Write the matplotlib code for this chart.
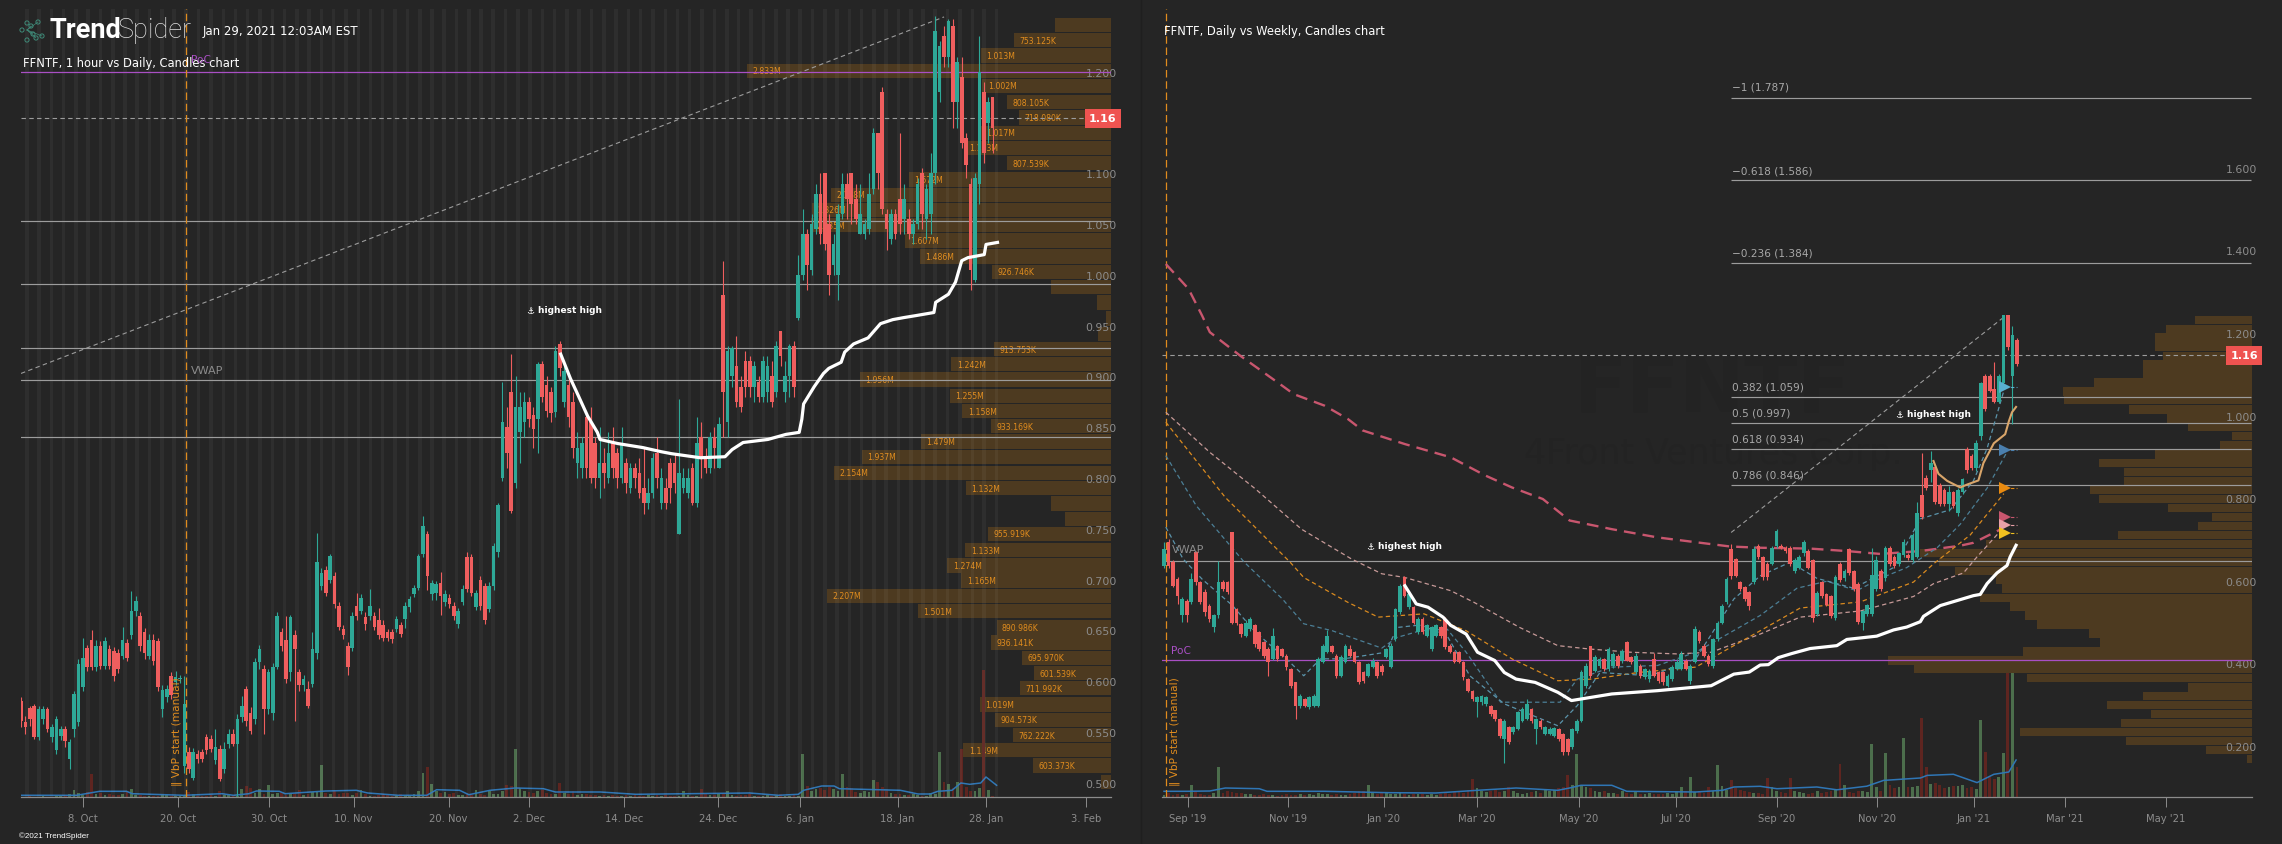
import numpy as np
import matplotlib
matplotlib.use("Agg")
import matplotlib.pyplot as plt

plt.rcParams["font.family"] = ["DejaVu Sans"]

BG = "#252525"
UP = "#2ea897"
DOWN = "#ef5e5e"
GRID = "#9c9c9c"
TICK = "#8c8c8c"
ORANGE = "#e08c1e"
BROWN = "#4d3a20"
PURPLE = "#a94fc4"

# left panel, 1 hour candles
l_open = [
    .581,.560,.574,.576,.545,.563,.573,.545,.532,.546,.553,
    .523,.553,.560,.594,.633,.641,.614,.635,.615,.632,.630,
    .628,.625,.638,.645,.669,.664,.648,.625,.641,.640,.573,.584,
    .605,.599,.602,.517,.530,.505,.528,.530,.545,.543,.522,
    .533,.514,.538,.548,.538,.565,.592,.569,.563,.619,.612,
    .573,.569,.614,.648,.641,.609,.645,.609,.596,.592,.597,
    .628,.694,.709,.700,.704,.674,.651,.635,.633,.674,.669,
    .663,.664,.664,.660,.655,.648,.648,.651,.655,.661,.673,
    .686,.692,.725,.745,.686,.687,.697,.678,.682,.674,.656,
    .678,.722,.722,.673,.700,.694,.671,.694,.727,.800,.850,
    .885,.795,.845,.855,.875,.862,.858,.912,.892,.885,.865,
    .932,.875,.892,.875,.815,.810,.860,.855,.835,.800,.815,.800,.835,
    .825,.800,.815,.790,.810,.805,.790,.775,.785,.825,.775,
    .790,.815,.815,.745,.790,.785,.810,.775,.840,.820,.810,
    .840,.810,.980,.855,.900,.910,.890,.915,.915,.890,.895,
    .880,.885,.900,.885,.945,.885,.900,.930,.958,1.000,
    1.040,1.005,1.045,1.080,1.100,1.050,1.010,1.000,1.060,1.090,1.100,
    1.075,1.040,1.040,1.045,1.085,1.140,1.180,1.060,1.035,1.060,1.075,
    1.055,1.055,1.040,1.050,1.100,1.055,1.060,1.100,1.180,1.235,1.215,
    1.245,1.170,1.195,1.135,1.090,.995,1.090,1.180,1.150,
    1.175]
l_close = [
    .561,.555,.563,.545,.573,.573,.553,.555,.563,.553,.541,
    .540,.587,.617,.623,.614,.614,.635,.615,.640,.615,.605,
    .612,.641,.623,.669,.679,.635,.628,.641,.620,.594,.591,.592,
    .586,.604,.603,.578,.514,.530,.523,.523,.532,.533,.535,
    .504,.533,.548,.538,.563,.576,.561,.551,.619,.632,.573,
    .609,.614,.664,.635,.602,.663,.632,.596,.602,.576,.632,
    .717,.707,.687,.723,.676,.653,.645,.614,.664,.664,.682,
    .656,.674,.653,.645,.643,.643,.642,.661,.646,.674,.681,
    .692,.723,.753,.704,.697,.696,.684,.686,.676,.664,.669,
    .691,.691,.687,.687,.674,.660,.694,.733,.773,.855,.825,
    .768,.870,.870,.875,.858,.848,.912,.880,.866,.864,.925,
    .908,.905,.860,.830,.830,.835,.810,.800,.800,.815,.805,.825,.810,
    .800,.835,.795,.810,.800,.785,.775,.785,.820,.800,.800,
    .775,.790,.795,.805,.800,.800,.775,.835,.820,.810,.840,
    .830,.853,.885,.925,.928,.875,.870,.890,.890,.910,.880,
    .915,.910,.875,.930,.920,.900,.930,.890,1.000,1.040,
    1.010,1.050,1.080,1.040,1.030,1.000,1.030,1.060,1.090,1.075,1.070,
    1.055,1.060,1.050,1.080,1.140,1.100,1.065,1.045,1.060,1.040,1.050,
    1.075,1.040,1.050,1.090,1.060,1.085,1.100,1.240,1.225,1.215,1.250,
    1.170,1.210,1.130,1.108,1.005,1.095,1.200,1.120,1.170,
    1.145]
l_high = [
    .584,.566,.576,.578,.576,.576,.575,.558,.566,.556,.556,
    .543,.590,.622,.643,.636,.650,.641,.640,.644,.636,.634,
    .632,.653,.642,.689,.684,.668,.652,.646,.646,.643,.596,.596,
    .609,.610,.606,.605,.535,.534,.532,.533,.548,.547,.553,
    .537,.540,.553,.553,.568,.585,.595,.575,.623,.636,.616,
    .612,.618,.668,.652,.664,.665,.650,.612,.606,.600,.648,
    .746,.711,.713,.725,.708,.678,.655,.639,.668,.687,.686,
    .668,.691,.668,.672,.660,.651,.651,.664,.658,.678,.684,
    .695,.725,.763,.748,.700,.699,.708,.690,.686,.678,.672,
    .695,.727,.725,.690,.704,.697,.698,.736,.775,.895,.870,
    .922,.900,.885,.885,.880,.870,.914,.915,.900,.890,.930,
    .935,.910,.900,.885,.845,.840,.865,.870,.840,.850,.830,.845,.850,
    .830,.850,.820,.815,.815,.820,.830,.800,.825,.840,.810,
    .800,.820,.825,.878,.810,.810,.815,.860,.855,.830,.845,
    .850,.860,1.014,.930,.930,.940,.900,.925,.920,.915,.900,
    .920,.920,.915,.935,.945,.915,.932,.935,1.020,1.065,
    1.045,1.060,1.090,1.100,1.100,1.060,1.040,1.070,1.100,1.100,1.100,
    1.090,1.090,1.055,1.100,1.145,1.140,1.185,1.065,1.065,1.065,1.140,
    1.090,1.065,1.055,1.095,1.105,1.090,1.120,1.255,1.230,1.245,1.252,
    1.252,1.215,1.215,1.140,1.095,1.100,1.235,1.190,1.175,
    1.175]
l_low = [
    .555,.548,.556,.543,.542,.558,.550,.540,.528,.542,.535,
    .514,.545,.556,.590,.610,.611,.610,.612,.612,.612,.600,
    .608,.622,.620,.642,.664,.630,.622,.622,.616,.590,.565,.580,
    .582,.596,.598,.510,.510,.503,.519,.520,.528,.530,.518,
    .502,.510,.534,.536,.487,.560,.556,.548,.558,.612,.548,
    .568,.562,.612,.630,.598,.600,.561,.590,.590,.574,.594,
    .622,.690,.684,.697,.672,.650,.642,.606,.630,.660,.666,
    .650,.660,.650,.642,.640,.640,.638,.648,.644,.652,.668,
    .683,.690,.722,.690,.680,.680,.665,.674,.672,.660,.652,
    .675,.688,.684,.670,.670,.656,.668,.690,.722,.797,.810,
    .766,.790,.815,.840,.850,.830,.825,.875,.860,.855,.860,
    .900,.870,.850,.820,.800,.800,.800,.795,.790,.780,.790,.795,.800,
    .790,.795,.785,.785,.790,.780,.765,.770,.780,.790,.770,
    .770,.775,.785,.745,.785,.780,.773,.772,.800,.805,.805,
    .810,.810,.840,.840,.890,.870,.865,.880,.880,.875,.875,
    .875,.875,.870,.880,.910,.875,.880,.880,.956,.995,
    .985,1.000,1.040,1.030,1.025,.980,1.000,.975,1.055,1.055,1.050,
    1.050,1.040,1.035,1.040,1.080,1.085,1.060,1.025,1.030,1.035,1.040,
    1.040,1.035,1.030,1.045,1.045,1.035,1.040,1.090,1.170,1.205,1.205,
    1.145,1.145,1.125,1.095,.985,.993,1.070,1.110,1.130,
    1.120]
l_volume = [
    5,5,10,5,5,15,5,5,15,10,20,
    30,70,40,25,50,230,30,40,25,30,25,
    25,35,60,80,20,20,15,10,15,15,25,20,
    15,10,10,25,50,30,15,15,15,25,15,
    60,20,25,20,15,85,110,90,40,80,35,
    120,30,40,50,25,30,30,70,25,30,50,
    60,320,40,30,60,30,40,40,20,40,70,
    30,15,15,25,30,20,15,15,30,25,20,
    30,60,240,300,130,60,40,50,30,40,25,
    25,30,20,70,30,25,60,30,35,60,120,
    110,480,90,60,50,40,60,70,40,30,30,
    140,40,30,60,25,35,30,25,20,15,20,15,20,
    15,15,20,15,20,15,10,20,15,25,15,
    20,15,15,15,60,25,15,15,80,30,20,
    25,30,30,60,20,15,20,25,30,15,15,
    15,25,15,15,30,10,10,30,10,430,
    110,60,80,90,70,100,80,60,230,100,90,
    50,40,60,50,170,150,100,60,40,30,30,
    25,20,30,25,15,15,40,30,450,150,130,
    90,150,480,100,60,60,90,1270,70,
    15]
l_session_bands = [
    1.3,4.1,6.9,9.6,12.4,15.2,18,20.8,23.5,26.3,29.1,31.9,34.7,37.4,40.2,43,
    45.8,48.6,51.3,54.1,56.9,59.7,62.5,65.2,68,70.8,73.6,76.4,79.1,81.9,84.7,
    87.5,90.3,93,95.8,98.6,101.4,104.2,106.9,109.7,112.5,115.3,118.1,120.8,
    123.6,126.4,129.2,132,134.7,137.5,140.3,143.1,145.9,148.6,151.4,154.2,157,
    159.8,162.5,165.3,168.1,170.9,173.7,176.4,179.2,182,184.8,187.6,190.3,
    193.1,195.9,198.7,201.5,204.2,207,209.8,212.6,215.4,218.1,220.9]

l_volma_x = [0,12.6,17.8,23.9,25.2,36.9,45.5,48.1,51.6,53.3,58.5,59.8,69,75.9,78.5,
             85.4,91.9,94.1,99.3,101.4,106.2,111.9,118.3,121,131.2,139.2,165,171.5,
             176,177.2,181.3,184.1,185.3,199.1,203.1,205.9,207.6,210.8,212.8,214.8,
             217.3,218.5,220.9]
l_volma = [17,17,57,57,33,17,33,17,33,60,57,33,60,67,40,17,17,73,67,23,67,90,83,50,50,
           27,40,17,27,67,110,110,83,67,30,30,57,67,140,127,140,200,117]

l_vwap_x = [122.2,124.4,126.2,128.3,130.5,131.1,135.1,140.8,144.9,147.3,153.8,159.4,161,
            163.5,169.1,173.2,176.2,176.8,177.2,179.6,181.7,182.9,185.7,186.5,188.5,
            191.8,194.6,197.4,199.9,202.7,206.7,207.1,210,211.6,213,214.4,218.1,218.5,221.1]
l_vwap = [.922,.898,.881,.861,.845,.838,.834,.830,.826,.824,.820,.821,.828,.835,.838,
          .843,.845,.858,.873,.890,.903,.908,.914,.924,.932,.938,.952,.956,.958,.960,
          .963,.973,.981,.993,1.014,1.017,1.020,1.030,1.032]

l_levels = [1.053,.991,.928,.897,.840]
l_trend_x = [0,209]
l_trend = [.903,1.254]
l_ticks = [14.1,35.5,56.2,75.3,96.8,115.1,136.6,157.9,176.3,198.5,218.5,241.1]
l_tick_labels = ["8. Oct","20. Oct","30. Oct","10. Nov","20. Nov","2. Dec","14. Dec",
                 "24. Dec","6. Jan","18. Jan","28. Jan","3. Feb"]
l_prices = [.5,.55,.6,.65,.7,.75,.8,.85,.9,.95,1.0,1.05,1.1,1.2]

l_vbp_price = [1.246,1.231,1.216,1.201,1.186,1.170,1.155,1.140,1.125,1.110,
               1.094,1.079,1.064,1.049,1.034,1.018,1.003,.988,.973,.957,
               .942,.927,.912,.897,.881,.866,.851,.836,.821,.805,
               .790,.775,.760,.745,.729,.714,.699,.684,.669,.653,
               .638,.623,.608,.593,.577,.562,.547,.532,.517,.501]
l_vbp_vol = [436,753.125,1013,2833,1002,808.105,718.08,1017,1143,807.539,
             1572,2178,2326,2335,1607,1486,926.746,470,111,42,
             100,913.753,1242,1956,1255,1158,933.169,1479,1937,2154,
             1132,464,361,955.919,1133,1274,1165,2207,1501,890.986,
             936.141,695.97,601.539,711.992,1019,904.573,762.222,1149,603.373,75]
l_vbp_labels = ["","753.125K","1.013M","2.833M","1.002M","808.105K","718.080K","1.017M","1.143M","807.539K",
                "1.572M","2.178M","2.326M","2.335M","1.607M","1.486M","926.746K","","","",
                "","913.753K","1.242M","1.956M","1.255M","1.158M","933.169K","1.479M","1.937M","2.154M",
                "1.132M","","","955.919K","1.133M","1.274M","1.165M","2.207M","1.501M","890.986K",
                "936.141K","695.970K","601.539K","711.992K","1.019M","904.573K","762.222K","1.149M","603.373K",""]

# right panel, daily candles
r_open = [
    .637,.693,.645,.604,.516,.552,.548,.669,.596,.572,.540,
    .487,.516,.596,.596,.717,.532,.495,.467,.483,.492,.475,
    .451,.435,.411,.443,.435,.419,.386,.354,.298,.314,.294,
    .298,.298,.403,.427,.443,.419,.370,.403,.435,.427,.403,
    .378,.370,.391,.403,.394,.415,.391,.459,.524,.608,.536,
    .536,.475,.508,.467,.435,.467,.487,.508,.443,.427,.427,
    .403,.362,.334,.306,.306,.302,.298,.286,.265,.217,.245,
    .233,.241,.261,.265,.290,.241,.261,.229,.229,.225,.241,
    .229,.217,.197,.237,.261,.346,.443,.382,.394,.411,.386,
    .394,.419,.407,.451,.415,.378,.394,.366,.362,.411,.378,
    .378,.346,.362,.387,.387,.407,.358,.403,.475,.443,.419,
    .394,.459,.499,.548,.677,.653,.596,.584,.572,.596,.685,
    .658,.641,.641,.685,.685,.680,.680,.623,.632,.667,.672,
    .650,.519,.597,.567,.562,.510,.641,.606,.676,.623,.593,
    .497,.519,.519,.580,.623,.606,.680,.658,.641,.663,.663,
    .650,.658,.807,.850,.868,.876,.833,.820,.785,.815,.763,
    .815,.920,.903,.872,.951,1.095,1.095,1.064,1.034,1.078,1.243,
    1.095,1.182]
r_close = [
    .677,.637,.588,.564,.556,.516,.604,.596,.548,.524,.508,
    .516,.596,.580,.572,.499,.499,.471,.499,.508,.447,.435,
    .419,.403,.467,.411,.419,.391,.346,.298,.322,.298,.318,
    .322,.411,.443,.467,.427,.370,.415,.443,.419,.403,.354,
    .358,.399,.407,.370,.378,.435,.443,.532,.588,.564,.568,
    .499,.508,.475,.492,.487,.492,.467,.439,.427,.403,.403,
    .366,.334,.314,.318,.320,.318,.278,.265,.225,.261,.209,
    .245,.282,.290,.302,.261,.265,.245,.245,.241,.243,.217,
    .185,.185,.241,.261,.378,.394,.370,.415,.411,.386,.435,
    .423,.394,.431,.407,.403,.419,.370,.386,.382,.370,.358,
    .354,.370,.391,.403,.423,.387,.394,.483,.455,.419,.399,
    .459,.499,.540,.604,.612,.612,.580,.556,.540,.677,.657,
    .610,.610,.680,.720,.680,.672,.641,.650,.658,.693,.632,
    .510,.571,.562,.541,.514,.610,.602,.623,.619,.580,.501,
    .527,.541,.615,.650,.580,.680,.641,.637,.667,.693,.654,
    .711,.763,.754,.824,.885,.790,.785,.785,.815,.781,.820,
    .846,.868,.872,.933,1.078,1.016,1.060,1.034,1.095,1.243,1.165,
    1.195,1.125]
r_high = [
    .693,.700,.650,.610,.560,.556,.620,.672,.600,.580,.545,
    .520,.649,.602,.600,.717,.535,.499,.505,.512,.495,.478,
    .455,.440,.485,.445,.438,.422,.390,.356,.325,.316,.322,
    .325,.415,.448,.480,.445,.422,.420,.448,.445,.430,.406,
    .382,.402,.412,.405,.398,.438,.450,.535,.592,.612,.572,
    .540,.512,.512,.495,.490,.496,.490,.512,.448,.430,.430,
    .405,.364,.336,.322,.323,.320,.300,.288,.268,.265,.248,
    .248,.285,.295,.315,.293,.268,.265,.248,.245,.246,.244,
    .232,.220,.244,.265,.385,.400,.443,.420,.415,.412,.440,
    .428,.422,.435,.455,.418,.425,.398,.390,.386,.425,.382,
    .382,.374,.395,.410,.430,.410,.398,.490,.480,.447,.422,
    .462,.503,.545,.610,.690,.656,.600,.588,.575,.685,.690,
    .660,.645,.685,.725,.690,.684,.684,.655,.662,.698,.676,
    .653,.575,.600,.570,.565,.615,.645,.628,.680,.626,.596,
    .530,.545,.680,.660,.628,.684,.684,.662,.670,.700,.668,
    .715,.790,.910,.855,.915,.880,.838,.825,.830,.818,.825,
    .850,.925,.908,.940,1.082,1.100,1.100,1.130,1.100,1.243,1.243,
    1.218,1.188]
r_low = [
    .630,.630,.585,.545,.500,.500,.545,.590,.545,.515,.500,
    .475,.510,.575,.568,.495,.492,.465,.465,.478,.440,.430,
    .412,.370,.408,.405,.415,.385,.340,.265,.292,.295,.290,
    .295,.295,.400,.425,.424,.365,.368,.400,.415,.400,.350,
    .352,.368,.388,.365,.373,.412,.388,.455,.520,.560,.532,
    .495,.472,.470,.464,.430,.464,.462,.435,.424,.400,.400,
    .360,.330,.310,.270,.300,.298,.272,.260,.220,.160,.205,
    .228,.238,.258,.262,.255,.205,.240,.226,.226,.222,.212,
    .178,.178,.192,.232,.258,.340,.365,.378,.390,.382,.382,
    .390,.390,.402,.405,.398,.375,.365,.362,.356,.366,.352,
    .348,.342,.358,.384,.384,.384,.350,.400,.450,.415,.394,
    .390,.455,.495,.545,.605,.608,.575,.550,.530,.592,.652,
    .602,.602,.638,.680,.676,.668,.636,.618,.628,.660,.628,
    .500,.515,.558,.538,.510,.505,.598,.600,.614,.575,.495,
    .480,.515,.515,.575,.575,.600,.636,.632,.636,.658,.650,
    .645,.655,.750,.820,.840,.785,.780,.780,.770,.776,.758,
    .810,.862,.868,.865,.940,1.010,1.056,1.030,1.030,1.070,1.160,
    .980,1.120]
r_volume = [
    25,40,20,30,25,30,120,60,35,25,20,
    40,300,40,60,50,40,40,30,30,20,25,
    30,25,20,15,25,30,20,25,30,25,30,
    25,40,30,30,25,30,20,25,35,40,60,
    60,120,50,30,40,40,30,30,40,30,25,
    30,35,30,25,30,25,30,40,30,50,60,
    40,70,180,90,60,50,60,70,50,60,100,
    60,40,30,40,50,60,40,70,60,70,90,
    100,220,120,430,120,100,90,60,50,60,40,
    40,30,60,40,30,50,30,30,40,30,30,
    30,40,30,60,100,60,200,50,60,40,100,
    60,320,110,70,170,90,70,60,50,40,40,
    30,190,100,60,50,40,190,60,50,40,30,
    40,60,40,50,60,80,330,120,50,40,60,
    60,50,530,100,60,440,120,90,100,590,100,
    100,110,790,300,130,140,120,90,100,110,110,
    120,90,100,80,770,450,200,180,200,440,1240,
    1240,300]

r_volma_x = [0,5,10.1,13.5,21,22.7,35.4,49.7,59.9,69.1,77.6,86.8,89.4,91.9,98.7,102,
             117.2,123.1,125.6,131.4,135.1,143.9,148.3,154.9,158.6,166.7,168.2,174,
             179.2,182.9,186.2,187.8]
r_volma = [57,57,60,90,83,57,57,43,40,67,90,67,90,117,117,57,50,67,100,107,83,100,72,
           108,166,190,216,227,144,227,250,370]

r_vwap_x = [53.1,55.6,58.2,61.5,63.2,66.6,69.1,72.9,75,77.6,81.8,86.8,89.8,98.7,108.8,
            120.6,125.6,129,131.4,133.2,135.4,138.4,142.4,148.3,150.5,157.1,160.8,
            163.7,166.7,167.4,171.1,178.4,179.9,181.4,183.6,185.8,186.5,187.8]
r_vwap = [.588,.544,.536,.512,.492,.471,.427,.407,.378,.362,.354,.330,.310,.326,.334,
          .346,.374,.379,.396,.397,.414,.424,.436,.443,.458,.466,.481,.488,.501,.514,
          .540,.564,.567,.593,.619,.637,.658,.686]
r_vwap2_x = [169.6,170.7,172.6,175.5,177,179.5,180.6,182.9,185.4,186.2,186.9,187.8]
r_vwap2 = [.890,.859,.842,.826,.833,.843,.885,.933,.955,.986,1.008,1.021]

r_ma200_x = [.4,5.4,8.4,10.1,16.8,26.1,28.6,35.4,40.5,43.8,53.1,63.2,70.8,76.7,83.5,89.4,
             98.7,108.8,124.8,131.4,142.4,150.5,157.9,166.7,175.5,178.4,184.3]
r_ma200 = [1.367,1.307,1.242,1.202,1.145,1.072,1.052,1.024,.992,.964,.931,.899,.855,.826,
           .798,.746,.725,.705,.683,.680,.678,.672,.665,.672,.685,.692,.724]
r_ma100_x = [.4,10.1,20.2,30.3,41.3,48,53.1,63.2,68.3,78.4,86.8,93.6,102.9,113,120.6,131.4,
             140.2,153.5,165.2,169.6,176.2,179.2,184.3]
r_ma100 = [1.008,.911,.822,.725,.653,.617,.608,.576,.548,.487,.443,.435,.427,.423,.427,.471,
           .512,.527,.562,.593,.619,.658,.720]
r_ma50_x = [.4,13.5,27.8,30.8,40.5,47.2,57.3,66.6,76.7,86.8,94.4,104.6,117.2,131.4,140.2,
            153.5,165.2,169.6,177.7,185.1]
r_ma50 = [.984,.802,.645,.608,.548,.512,.520,.479,.411,.358,.362,.378,.391,.479,.534,.549,
          .597,.641,.711,.811]
r_ma20_x = [.4,7.1,17.7,26.1,30.8,37.1,48,51.4,56.5,62.4,66.6,74.2,87.3,91.1,98.7,108.8,
            117.2,131.4,139.5,146.1,152.7,157.9,163.7,170.4,175.5,181.4,185.8]
r_ma20 = [.903,.782,.645,.556,.496,.479,.437,.463,.479,.483,.427,.306,.306,.362,.391,.395,
          .427,.516,.582,.599,.576,.606,.632,.680,.737,.824,.912]
r_ma10_x = [.4,4.2,8.4,15.1,20.2,27,30.8,34.5,39.6,48.9,51.4,56.5,62.4,67.4,75,86.8,91.1,
            96.1,107.1,117.2,125.6,131.4,138,143.9,152,160.8,166.7,173.3,178.4,181.4,185.1]
r_ma10 = [.730,.653,.604,.540,.475,.411,.370,.411,.411,.427,.487,.493,.467,.370,.302,.249,
          .298,.378,.370,.411,.556,.612,.645,.606,.582,.632,.750,.772,.842,.920,1.060]

r_fib_levels = [1.770,1.570,1.369,1.045,.981,.918,.831]
r_fib_labels = ["\u22121 (1.787)","\u22120.618 (1.586)","\u22120.236 (1.384)",
                "0.382 (1.059)","0.5 (0.997)","0.618 (0.934)","0.786 (0.846)"]
r_trend_x = [125,184.7]
r_trend = [.717,1.235]
r_marker_prices = [1.069,.916,.824,.754,.735,.715]
r_marker_colors = ["#5ab0d0","#4a7fae","#e88a10","#c8566e","#e8a0a8","#f0c020"]
r_ticks = [5.2,27.4,48.4,69,91.4,112.9,135.1,157.2,178.5,198.6,220.8]
r_tick_labels = ["Sep '19","Nov '19","Jan '20","Mar '20","May '20","Jul '20","Sep '20",
                 "Nov '20","Jan '21","Mar '21","May '21"]
r_prices = [.2,.4,.6,.8,1.0,1.2,1.4,1.6]
r_vbp_price = [1.232,1.210,1.189,1.167,1.145,1.124,1.102,1.080,1.058,1.037,
               1.015,.993,.972,.950,.928,.906,.885,.863,.841,.820,
               .798,.776,.755,.733,.711,.689,.668,.646,.624,.603,
               .581,.559,.538,.516,.494,.472,.451,.429,.407,.386,
               .364,.342,.321,.299,.277,.255,.234,.212,.190,.169]
r_vbp_vol = [1710,2580,2910,2910,2660,3260,3280,4740,5680,5640,
             3690,2540,1930,610,960,2910,4600,3840,3840,4860,
             4590,2520,1200,1610,4010,7990,9960,9400,8910,7680,
             7490,8160,7260,6810,6460,4880,4560,6860,10910,10140,
             6760,1910,3280,4360,3040,3930,6960,3780,1390,160]


def px_rect(x0, x1):
    return [x0 / 2282, 1 - 798 / 845, (x1 - x0) / 2282, 788 / 845]


def make_axes(x0, x1):
    vbp = fig.add_axes(px_rect(x0, x1), zorder=1)
    vol = fig.add_axes(px_rect(x0, x1), zorder=2)
    price = fig.add_axes(px_rect(x0, x1), zorder=3)
    for a in (vbp, vol, price):
        a.patch.set_visible(False)
        for s in a.spines.values():
            s.set_visible(False)
        a.set_xticks([])
        a.set_yticks([])
    return price, vol, vbp


def draw_candles(ax, vol_ax, o, h, l, c, v, width=.82):
    o, h, l, c = map(np.array, (o, h, l, c))
    x = np.arange(len(o))
    rising = c >= o
    colors = np.where(rising, UP, DOWN)
    ax.vlines(x, l, h, colors=colors, lw=.8, zorder=4)
    ax.bar(x, np.abs(c - o), bottom=np.minimum(o, c), width=width, color=colors, zorder=5)
    vol_colors = np.where(rising, "#4c6e4c", "#5e2520")
    vol_ax.bar(x, v, width=.62, color=vol_colors)


def style_axis(ax, ticks, labels, prices, pad):
    ax.spines["bottom"].set_visible(True)
    ax.spines["bottom"].set_color(TICK)
    ax.spines["bottom"].set_linewidth(.9)
    ax.set_xticks(ticks, labels)
    ax.tick_params(axis="x", length=7.2, width=.7, color=TICK, labelcolor=TICK,
                   labelsize=7.2, pad=4)
    ax.yaxis.tick_right()
    ax.set_yticks(prices, ["%.3f" % p for p in prices])
    ax.tick_params(axis="y", length=0, labelcolor=TICK, labelsize=7.9, pad=pad)


fig = plt.figure(figsize=(22.82, 8.45), dpi=100, facecolor=BG)

# faint watermark behind the right panel
fig.text(1713 / 2282, 1 - 390 / 845, "FFNTF", color="#232323", fontsize=56, weight="bold",
         ha="center", va="center", zorder=0)
fig.text(1713 / 2282, 1 - 454 / 845, "4Front Ventures Corp.", color="#232323", fontsize=25,
         ha="center", va="center", zorder=0)

# left panel
ax1, vol1, vbp1 = make_axes(21, 1111)
ax1.set_xlim(0, 246.8)
ax1.set_ylim(.486, 1.2618)
vol1.set_xlim(0, 246.8)
vol1.set_ylim(0, 7880)
vbp1.set_xlim(8485, 0)
vbp1.set_ylim(.486, 1.2618)

vbp1.barh(l_vbp_price, l_vbp_vol, height=.0141, color=BROWN)
for p, v, t in zip(l_vbp_price, l_vbp_vol, l_vbp_labels):
    if t:
        vbp1.annotate(t, (v, p), xytext=(3.9, 0), textcoords="offset points", ha="left",
                      va="center", color=ORANGE, fontsize=5.6)

for b in l_session_bands:
    ax1.axvspan(b - .4, b + .4, color="white", alpha=.045, lw=0, zorder=1)
for lv in l_levels:
    ax1.axhline(lv, color=GRID, lw=.85, zorder=2)
ax1.axhline(1.2, color=PURPLE, lw=.9, zorder=2)
ax1.axhline(1.154, color=GRID, lw=.8, ls=(0, (4, 3)), zorder=2)
ax1.plot(l_trend_x, l_trend, color=GRID, lw=.8, ls=(0, (4, 3)), zorder=2)
ax1.axvline(37.3, color=ORANGE, lw=.9, ls=(0, (6, 3)), zorder=2)

draw_candles(ax1, vol1, l_open, l_high, l_low, l_close, l_volume)
vol1.plot(l_volma_x, l_volma, color="#2f76b5", lw=1.1)
ax1.plot(l_vwap_x, l_vwap, color="white", lw=2.3, zorder=6, solid_joinstyle="round")
style_axis(ax1, l_ticks, l_tick_labels, l_prices, -18.5)

# right panel
ax2, vol2, vbp2 = make_axes(1162, 2252)
ax2.set_xlim(-.44, 239.8)
ax2.set_ylim(.0765, 1.9845)
vol2.set_xlim(-.44, 239.8)
vol2.set_ylim(0, 7880)
vbp2.set_xlim(32700, 0)
vbp2.set_ylim(.0765, 1.9845)

vbp2.barh(r_vbp_price, r_vbp_vol, height=.0202, color=BROWN)

for lv in r_fib_levels:
    ax2.hlines(lv, 125, 239.5, color=GRID, lw=.85, zorder=2)
ax2.axhline(.649, color=GRID, lw=.85, zorder=2)
ax2.axhline(.408, color=PURPLE, lw=.9, zorder=2)
ax2.axhline(1.146, color=GRID, lw=.8, ls=(0, (4, 3)), zorder=2)
ax2.plot(r_trend_x, r_trend, color=GRID, lw=.8, ls=(0, (4, 3)), zorder=2)
ax2.axvline(.4, color=ORANGE, lw=.9, ls=(0, (6, 3)), zorder=2)

ax2.plot(r_ma200_x, r_ma200, color="#c8566e", lw=1.7, ls=(0, (5, 3)), zorder=3)
ax2.plot(r_ma100_x, r_ma100, color="#c79a98", lw=.9, ls=(0, (3.5, 2.5)), zorder=3)
ax2.plot(r_ma50_x, r_ma50, color="#d98a1f", lw=.9, ls=(0, (3.5, 2.5)), zorder=3)
ax2.plot(r_ma20_x, r_ma20, color="#4c7f96", lw=.9, ls=(0, (3.5, 2.5)), zorder=3)
ax2.plot(r_ma10_x, r_ma10, color="#5a93aa", lw=.9, ls=(0, (3.5, 2.5)), zorder=3)

draw_candles(ax2, vol2, r_open, r_high, r_low, r_close, r_volume)
vol2.plot(r_volma_x, r_volma, color="#2f76b5", lw=1.1)
ax2.plot(r_vwap_x, r_vwap, color="white", lw=2.3, zorder=6)
ax2.plot(r_vwap2_x, r_vwap2, color="#d9a56a", lw=1.5, zorder=6)
for p, col in zip(r_marker_prices, r_marker_colors):
    ax2.plot([185.4], [p], marker=">", ms=8, color=col, mew=0, zorder=7)
    ax2.plot([185.4, 188], [p, p], color=col, lw=.8, ls=(0, (3, 2)), zorder=7)
style_axis(ax2, r_ticks, r_tick_labels, r_prices, -19)

# text and logo in pixel coordinates
top = fig.add_axes([0, 0, 1, 1], zorder=10)
top.patch.set_visible(False)
top.set_axis_off()
top.set_xlim(0, 2282)
top.set_ylim(845, 0)

top.axvline(1141, color="#1f1f1f", lw=1)

logo = "#3f8a78"
nodes_x = [22, 27, 27, 33, 38, 31, 36, 42]
nodes_y = [31, 24, 41, 35, 23, 27, 39, 37]
for i in range(3, 8):
    top.plot([27, nodes_x[i]], [31, nodes_y[i]], color=logo, lw=.5)
top.scatter(nodes_x, nodes_y, s=9, facecolors="none", edgecolors=logo, lw=.7)
top.text(50, 31, "Trend", color="white", fontsize=19.5, family="Roboto", weight="bold", va="center")
top.text(118, 31, "Spider", color="#e0e0e0", fontsize=19.5, family="Roboto", weight="light", va="center")
top.text(203, 31, "Jan 29, 2021 12:03AM EST", color="white", fontsize=8.5, va="center")
top.text(23, 63, "FFNTF, 1 hour vs Daily, Candles chart", color="white", fontsize=8.3, va="center")
top.text(1164, 31, "FFNTF, Daily vs Weekly, Candles chart", color="white", fontsize=8.3, va="center")
top.text(191, 60, "PoC", color=PURPLE, fontsize=7.6, va="center")
top.text(191, 371, "VWAP", color=TICK, fontsize=8, va="center")
top.text(19, 836, "\u00a92021 TrendSpider", color="white", fontsize=5.8, va="center",
         family="Liberation Sans")
top.text(176.8, 786, "\u2016 VbP start (manual)", color=ORANGE, fontsize=7.6, rotation=90,
         ha="center", va="bottom")
top.text(1174.5, 786, "\u2016 VbP start (manual)", color=ORANGE, fontsize=7.6, rotation=90,
         ha="center", va="bottom")
top.text(1171.5, 550, "VWAP", color=TICK, fontsize=8, va="center")
top.text(1171.5, 651, "PoC", color=PURPLE, fontsize=7.6, va="center")

for ax_x, ax_y, txt_x in [(530, 311, 537.7), (1370, 547, 1378), (1899, 415, 1907)]:
    top.text(ax_x, ax_y, "\u2693", color="white", fontsize=6.5, ha="center", va="center")
    top.text(txt_x, ax_y, "highest high", color="white", fontsize=6.5, weight="bold", va="center")

for y, t in zip([88, 171, 254, 388, 414, 440, 476], r_fib_labels):
    top.text(1732, y, t, color="#a8a8a8", fontsize=7.6, va="center")

for x0, x1, y0, y1 in [(1085, 1121, 110, 129), (2226, 2262, 347, 366)]:
    top.fill_between([x0, x1], y0, y1, color="#ef5350", lw=0)
    top.text((x0 + x1) / 2, (y0 + y1) / 2, "1.16", color="white", fontsize=8,
             weight="bold", ha="center", va="center")

top.set_xlim(0, 2282)
top.set_ylim(845, 0)

fig.savefig("out.png", dpi=100, facecolor=BG)
